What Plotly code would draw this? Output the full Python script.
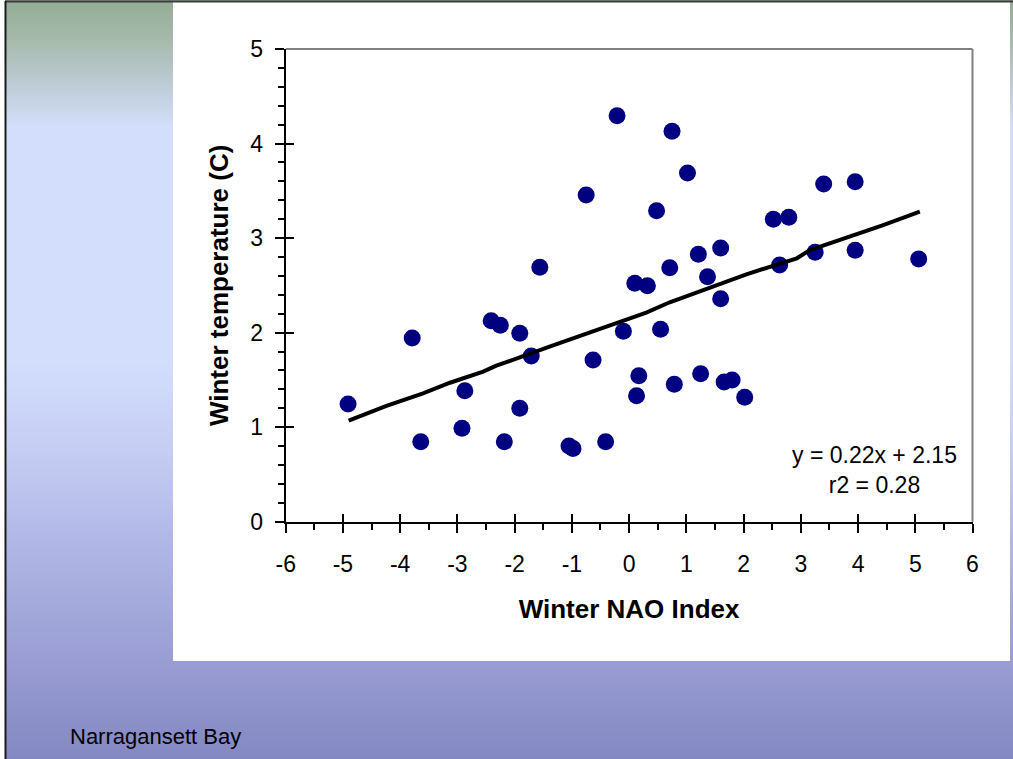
import plotly.graph_objects as go

# ---------------- data ----------------
nao_index = [-4.91, -3.79, -3.64, -2.92, -2.87, -2.41, -2.25, -2.18, -1.91, -1.91,
             -1.71, -1.56, -1.05, -0.98, -0.75, -0.63, -0.41, -0.21, -0.10, 0.10,
             0.13, 0.17, 0.32, 0.48, 0.55, 0.71, 0.75, 0.79, 1.02, 1.21,
             1.25, 1.37, 1.60, 1.60, 1.66, 1.80, 2.02, 2.52, 2.63, 2.79,
             3.25, 3.40, 3.95, 3.95, 5.06]
winter_temp = [1.245, 1.943, 0.846, 0.988, 1.386, 2.126, 2.077, 0.846, 1.993, 1.200,
               1.753, 2.691, 0.800, 0.774, 3.456, 1.710, 0.846, 4.294, 2.014, 2.522,
               1.333, 1.544, 2.496, 3.290, 2.035, 2.687, 4.129, 1.453, 3.688, 2.828,
               1.565, 2.591, 2.895, 2.359, 1.478, 1.499, 1.316, 3.199, 2.715, 3.220,
               2.850, 3.572, 3.596, 2.871, 2.779]
trend_x = [-4.90, -4.24, -3.60, -3.13, -2.55, -2.32, -1.39, 0.30, 0.71, 2.05, 2.93, 3.16, 4.44, 5.08]
trend_y = [1.068, 1.224, 1.358, 1.470, 1.587, 1.650, 1.851, 2.211, 2.321, 2.617, 2.786, 2.874, 3.138, 3.279]
x_ticks = [-6, -5, -4, -3, -2, -1, 0, 1, 2, 3, 4, 5, 6]
x_tick_labels = ["-6", "-5", "-4", "-3", "-2", "-1", "0", "1", "2", "3", "4", "5", "6"]
y_ticks = [0, 1, 2, 3, 4, 5]
y_tick_labels = ["0", "1", "2", "3", "4", "5"]
equation_text = "y = 0.22x + 2.15<br>r2 = 0.28"
footer_text = "Narragansett Bay"

# ---------------- layout helpers ----------------
W, H = 1013, 759
FONT = "Arial, 'Liberation Sans', sans-serif"

def px_x(p):
    return p / W

def px_y(p):
    return 1 - p / H

# background gradient stops (pixel row, rgb)
grad_stops = [(0, (148, 172, 148)), (40, (166, 186, 172)), (85, (190, 204, 214)),
              (128, (211, 222, 252)), (360, (211, 222, 252)), (450, (197, 205, 243)),
              (550, (175, 181, 228)), (660, (153, 157, 211)), (759, (132, 136, 194))]

def grad_color(yp):
    for (y0, c0), (y1, c1) in zip(grad_stops[:-1], grad_stops[1:]):
        if y0 <= yp <= y1:
            t = (yp - y0) / (y1 - y0) if y1 > y0 else 0
            c = [round(a + (b - a) * t) for a, b in zip(c0, c1)]
            return f"rgb({c[0]},{c[1]},{c[2]})"
    c = grad_stops[-1][1]
    return f"rgb({c[0]},{c[1]},{c[2]})"

shapes = []
band = 3
for yp in range(0, H, band):
    shapes.append(dict(type="rect", xref="paper", yref="paper", layer="below",
                       x0=px_x(5), x1=px_x(W), y0=px_y(yp), y1=px_y(min(yp + band, H) + 0.5),
                       fillcolor=grad_color(yp + band / 2), line=dict(width=0)))
# white panel
shapes.append(dict(type="rect", xref="paper", yref="paper", layer="below",
                   x0=px_x(173), x1=px_x(1010), y0=px_y(661), y1=px_y(2),
                   fillcolor="white", line=dict(width=0)))
# slide border lines
shapes.append(dict(type="line", xref="paper", yref="paper", layer="below",
                   x0=px_x(5), x1=px_x(W), y0=px_y(1.5), y1=px_y(1.5),
                   line=dict(color="#3c3c3c", width=2)))
shapes.append(dict(type="line", xref="paper", yref="paper", layer="below",
                   x0=px_x(5.5), x1=px_x(5.5), y0=px_y(1), y1=px_y(H),
                   line=dict(color="#1a1a1a", width=2)))
# gray plot frame top and right
shapes.append(dict(type="line", xref="x domain", yref="y domain", layer="below",
                   x0=0, x1=1, y0=1, y1=1, line=dict(color="#808080", width=2)))
shapes.append(dict(type="line", xref="x domain", yref="y domain", layer="below",
                   x0=1, x1=1, y0=0, y1=1, line=dict(color="#808080", width=2)))

x_dom = [285.7 / W, 972.5 / W]
y_dom = [1 - 521.7 / H, 1 - 49 / H]

fig = go.Figure()
fig.add_trace(go.Scatter(x=nao_index, y=winter_temp, mode="markers",
                         marker=dict(color="#000080", size=17, line=dict(width=0)),
                         showlegend=False, hoverinfo="x+y"))
fig.add_trace(go.Scatter(x=trend_x, y=trend_y, mode="lines", xaxis="x2", yaxis="y2",
                         line=dict(color="black", width=4), showlegend=False))

tick_font = dict(family=FONT, size=23, color="black")
title_font = dict(family=FONT, size=26, color="black", weight="bold")

fig.update_layout(
    template="none",
    width=W, height=H,
    margin=dict(l=0, r=0, t=0, b=0),
    paper_bgcolor="white",
    plot_bgcolor="rgba(0,0,0,0)",
    shapes=shapes,
    xaxis=dict(domain=x_dom, range=[-6, 6], tickvals=x_ticks, ticktext=x_tick_labels,
               ticks="outside", ticklen=9, tickwidth=1.5, tickcolor="black",
               showline=True, linecolor="black", linewidth=2,
               showgrid=False, zeroline=False, automargin=False,
               tickfont=tick_font, ticklabelstandoff=12,
               minor=dict(dtick=0.5, ticks="outside", ticklen=6, tickwidth=1.5, tickcolor="black", showgrid=False),
               title=dict(text="Winter NAO Index", font=title_font, standoff=24)),
    yaxis=dict(domain=y_dom, range=[0, 5], tickvals=y_ticks, ticktext=y_tick_labels,
               ticks="outside", ticklen=9, tickwidth=1.5, tickcolor="black",
               showline=True, linecolor="black", linewidth=2,
               showgrid=False, zeroline=False, automargin=False,
               tickfont=tick_font, ticklabelstandoff=7,
               minor=dict(dtick=0.2, ticks="outside", ticklen=6, tickwidth=1.5, tickcolor="black", showgrid=False),
               title=dict(text="Winter temperature (C)", font=title_font, standoff=14)),
    xaxis2=dict(overlaying="x", matches="x", anchor="y2", side="bottom", range=[-6, 6],
                tickvals=x_ticks, ticks="inside", ticklen=8, tickwidth=1.5, tickcolor="black",
                showticklabels=False, showline=False, showgrid=False, zeroline=False, automargin=False),
    yaxis2=dict(overlaying="y", matches="y", anchor="x2", side="left", range=[0, 5],
                tickvals=y_ticks, ticks="inside", ticklen=8, tickwidth=1.5, tickcolor="black",
                showticklabels=False, showline=False, showgrid=False, zeroline=False, automargin=False),
    annotations=[
        dict(text=equation_text, xref="paper", yref="paper", x=px_x(874), y=px_y(470),
             xanchor="center", yanchor="middle", align="center", showarrow=False,
             font=dict(family=FONT, size=23, color="black")),
        dict(text=footer_text, xref="paper", yref="paper", x=px_x(68), y=px_y(736),
             xanchor="left", yanchor="middle", showarrow=False,
             font=dict(family=FONT, size=22, color="black")),
    ],
)

fig.write_html("out.html")
